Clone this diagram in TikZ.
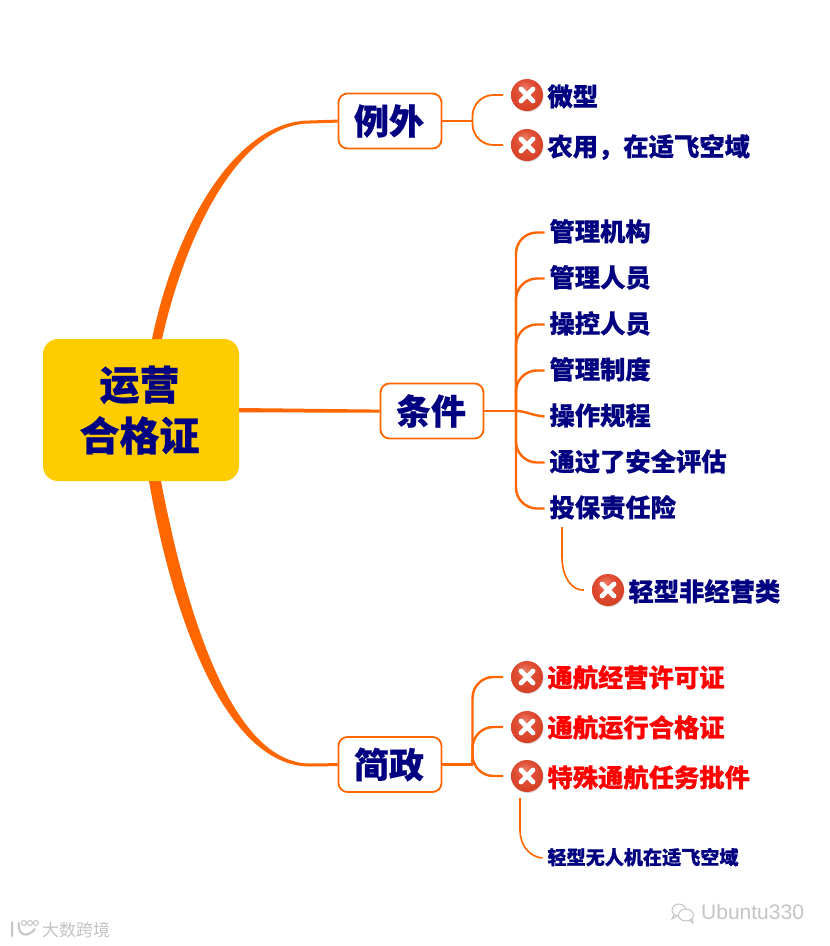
\documentclass[tikz,border=0pt]{standalone}
\usepackage{fontspec}
\setmainfont{Noto Sans CJK SC}[BoldFeatures={FakeBold=0.6}]
\newfontfamily\latinwm{Liberation Sans}
\usetikzlibrary{calc,shadows}
\definecolor{navyt}{HTML}{000080}
\definecolor{orangel}{HTML}{FF6600}
\definecolor{rootf}{HTML}{FFCC00}
\definecolor{wmgray}{HTML}{C4C4C4}
\definecolor{balla}{HTML}{EC7C66}
\definecolor{ballb}{HTML}{E04E35}
\definecolor{ballc}{HTML}{D43E22}
\definecolor{balld}{HTML}{C2351E}
\pgfdeclareradialshading{iconball}{\pgfpoint{-5bp}{12bp}}{color(0bp)=(balla); color(14bp)=(ballb); color(32bp)=(ballc); color(50bp)=(balld)}
\tikzset{
  rootbox/.style={fill=rootf,rounded corners=15pt,minimum width=196pt,minimum height=142pt,inner sep=0pt,align=center,text=navyt,font=\fontsize{40}{52}\selectfont\bfseries},
  midbox/.style={draw=orangel,line width=1.8pt,fill=white,rounded corners=9pt,minimum width=103pt,minimum height=55pt,inner sep=0pt,text=navyt,font=\fontsize{35}{40}\selectfont\bfseries},
  leaf/.style={anchor=west,inner sep=0pt,outer sep=5pt,text=navyt,font=\fontsize{25.3}{28}\selectfont\bfseries,text height=21pt,text depth=4pt},
  leafred/.style={leaf,text=red},
  leafsmall/.style={leaf,font=\fontsize{19.1}{22}\selectfont\bfseries,text height=16pt,text depth=3pt},
  xicon/.style={circle,minimum size=32pt,inner sep=0pt,outer sep=8pt,shade,shading=iconball,
    drop shadow={shadow xshift=0.6pt,shadow yshift=-1pt,opacity=.3,fill=gray},
    path picture={\draw[white,line width=4.8pt,line cap=round]
      ($(path picture bounding box.center)+(-6,-6)$) -- ($(path picture bounding box.center)+(6,6)$)
      ($(path picture bounding box.center)+(-6,6)$) -- ($(path picture bounding box.center)+(6,-6)$);}},
  branch/.style={draw=orangel,line width=2.4pt,rounded corners=21pt},
  branchthin/.style={draw=orangel,line width=1.6pt},
  wmtext/.style={inner sep=0pt,text=wmgray}
}
\begin{document}
\begin{tikzpicture}[x=1pt,y=-1pt]
\useasboundingbox[fill=white] (0,0) rectangle (830,946);
% main nodes
\node[rootbox] (root) at (141,410) {\raisebox{-4pt}{\hspace*{-3pt}运营}\\[1pt]\raisebox{-2pt}{\hspace*{-3pt}合格证}};
\node[midbox] (exc) at (390,121) {\hspace*{-2pt}\raisebox{-2pt}{例外}};
\node[midbox] (cond) at (432,411) {\hspace*{-2pt}\raisebox{-2pt}{条件}};
\node[midbox] (simp) at (390,764.5) {\hspace*{-2pt}\raisebox{-2pt}{简政}};
% hubs
\coordinate (h1) at (472.5,121);
\coordinate (h2) at (516,411);
\coordinate (h3) at (472.5,764.5);
% exceptions
\node[xicon] (i1) at (527,95) {};
\node[xicon] (i2) at (527,145) {};
\node[leaf] (a1) at (542.5,97.5) {微型};
\node[leaf] (a2) at (542.5,147.5) {农用，在适飞空域};
% conditions
\node[leaf] (b1) at (544.5,232.5) {管理机构};
\node[leaf] (b2) at (544.5,278.5) {管理人员};
\node[leaf] (b3) at (544.5,324.5) {操控人员};
\node[leaf] (b4) at (544.5,370.5) {管理制度};
\node[leaf] (b5) at (544.5,416.5) {操作规程};
\node[leaf] (b6) at (544.5,462.5) {通过了安全评估};
\node[leaf] (b7) at (544.5,508.5) {投保责任险};
\node[xicon] (i3) at (608,590) {};
\node[leaf] (b8) at (623.5,592.5) {轻型非经营类};
% simplification
\node[xicon] (i4) at (527,677) {};
\node[xicon] (i5) at (527,727) {};
\node[xicon] (i6) at (527,776) {};
\node[leafred] (c1) at (542.5,678.5) {通航经营许可证};
\node[leafred] (c2) at (542.5,728.5) {通航运行合格证};
\node[leafred] (c3) at (542.5,778.5) {特殊通航任务批件};
\node[leafsmall] (c4) at (542.5,858) {轻型无人机在适飞空域};
% tapered main connectors
\fill[orangel] (152,339) .. controls (175,228) and (235,120.5) .. (310,120.5) -- ($(exc.west)+(0,-1.4)$) -- ($(exc.west)+(0,1.6)$) -- (310,123.5) .. controls (240,123.5) and (186,232) .. (162,339) -- cycle;
\fill[orangel] (149,481) .. controls (172,615) and (225,766.5) .. (310,766.5) -- ($(simp.west)+(0,1.6)$) -- ($(simp.west)+(0,-1.4)$) -- (310,763.5) .. controls (232,763.5) and (186,612) .. (161,481) -- cycle;
\fill[orangel] ($(root.east)+(0,-2)$) -- ($(cond.west)+(0,-1.4)$) -- ($(cond.west)+(0,1.6)$) -- ($(root.east)+(0,2.4)$) -- cycle;
% branches
\draw[branch] (exc.east) -- (h1);
\draw[branch,line width=1.8pt] (h1) |- (i1.west);
\draw[branch,line width=1.8pt] (h1) |- (i2.west);
\draw[branch] (cond.east) -- (h2);
\draw[branch] (h2) |- (b1.west);
\draw[branch] (h2) |- (b2.west);
\draw[branch] (h2) |- (b3.west);
\draw[branch] (h2) |- (b4.west);
\draw[branch] (h2) .. controls (526,411) and (530,415) .. (b5.west);
\draw[branch] (h2) |- (b6.west);
\draw[branch] (h2) |- (b7.west);
\draw[branch] (simp.east) -- (h3);
\draw[branch] (h3) |- (i4.west);
\draw[branch] (h3) |- (i5.west);
\draw[branch] (h3) |- (i6.west);
\coordinate (s1) at (562,527);
\coordinate (s2) at (520,798);
\draw[branchthin] (s1) -- ++(0,30) .. controls ++(0,20) and (572,591) .. (i3.west);
\draw[branchthin] (s2) -- ++(0,32) .. controls ++(0,16) and (530,857) .. (c4.west);
% watermarks
\node[wmtext,anchor=west,font=\fontsize{17}{20}\selectfont] (w1) at (42,930) {大数跨境};
\node[wmtext,anchor=west,font=\latinwm\fontsize{21}{24}\selectfont] (w2) at (701,912) {Ubuntu330};
\draw[wmgray,line width=1pt] (679,910) circle[x radius=7,y radius=6];
\draw[wmgray,line width=1pt,fill=white] (686,915) circle[x radius=7.5,y radius=6];
\draw[wmgray,line width=1pt] (674,915) -- (672,919) -- (677,916) (689,920) -- (693,923) -- (692,919);
\draw[wmgray,line width=2pt,line cap=round] (12,922) -- (12,936) (19,923) .. controls (17,936) and (28,938) .. (35,929);
\draw[wmgray,line width=1pt] (24,923) circle[radius=2.5] (30,923) circle[radius=2.5] (36,923) circle[radius=2.5];
\end{tikzpicture}
\end{document}
